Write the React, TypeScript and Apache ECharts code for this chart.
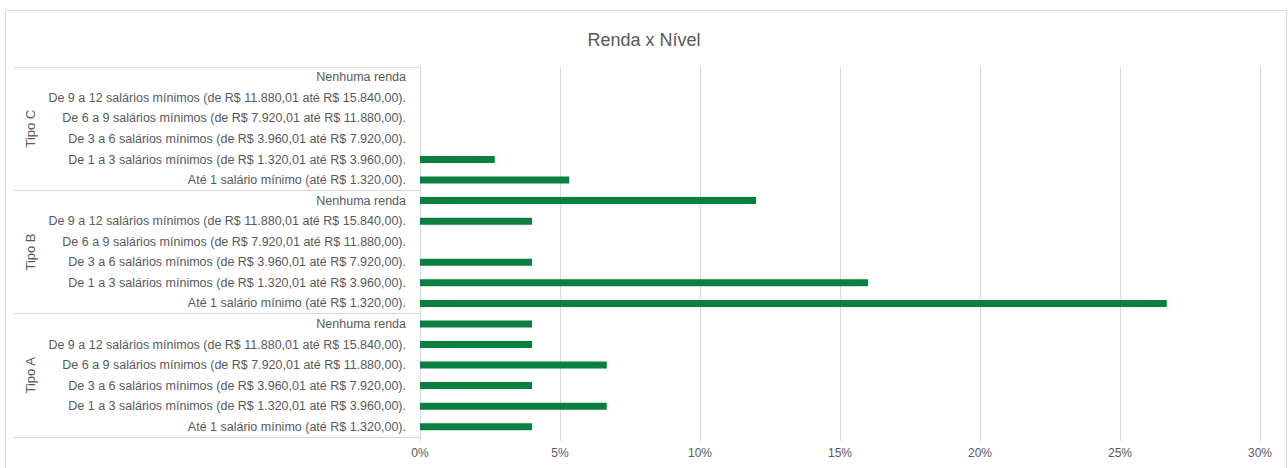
import React, { useEffect, useRef } from "react";
import * as echarts from "echarts";

const titleText = "Renda x Nível";
const groups = ["Tipo A", "Tipo B", "Tipo C"];
const incomeLevels = [
  "Até 1 salário mínimo (até R$ 1.320,00).",
  "De 1 a 3 salários mínimos (de R$ 1.320,01 até R$ 3.960,00).",
  "De 3 a 6 salários mínimos (de R$ 3.960,01 até R$ 7.920,00).",
  "De 6 a 9 salários mínimos (de R$ 7.920,01 até R$ 11.880,00).",
  "De 9 a 12 salários mínimos (de R$ 11.880,01 até R$ 15.840,00).",
  "Nenhuma renda",
];
const tipoA = [4, 6.67, 4, 6.67, 4, 4];
const tipoB = [26.67, 16, 4, 0, 4, 12];
const tipoC = [5.33, 2.67, 0, 0, 0, 0];
const xTicks = { min: 0, max: 30, interval: 5 };

const FONT = "'Liberation Sans', Arial, sans-serif";

export default function App() {
  const ref = useRef<HTMLDivElement>(null);
  useEffect(() => {
    if (!ref.current) return;
    const chart = echarts.init(ref.current, null, { renderer: "svg" });
    const groupValues = [tipoA, tipoB, tipoC];
    const categories: string[] = [];
    const values: number[] = [];
    groups.forEach((g, gi) => {
      incomeLevels.forEach((lvl, li) => {
        categories.push(g + "|" + lvl);
        values.push(groupValues[gi][li]);
      });
    });
    chart.setOption({
      animation: false,
      backgroundColor: "#ffffff",
      textStyle: { fontFamily: FONT },
      title: {
        text: titleText,
        left: "center",
        top: 26,
        textStyle: { fontSize: 18, fontWeight: "normal", color: "#595959", fontFamily: FONT },
      },
      graphic: [
        {
          type: "rect",
          shape: { x: 5.5, y: 10.5, width: 1281, height: 470 },
          style: { fill: "none", stroke: "#D9D9D9", lineWidth: 1 },
          silent: true,
        },
      ],
      grid: { left: 420, right: 28, top: 67, bottom: 31, containLabel: false },
      xAxis: {
        type: "value",
        min: xTicks.min,
        max: xTicks.max,
        interval: xTicks.interval,
        axisLine: { show: false },
        axisTick: { show: true, length: 4, lineStyle: { color: "#D9D9D9" } },
        splitLine: { show: true, lineStyle: { color: "#D9D9D9", width: 1 } },
        axisLabel: {
          formatter: "{value}%",
          color: "#595959",
          fontSize: 12,
          margin: 10,
          fontFamily: FONT,
        },
      },
      yAxis: [
        {
          type: "category",
          data: categories,
          axisLine: { show: true, lineStyle: { color: "#D9D9D9" } },
          axisTick: { show: false },
          splitLine: { show: false },
          axisLabel: {
            formatter: (v: string) => v.split("|")[1],
            color: "#595959",
            fontSize: 12.5,
            margin: 14,
            interval: 0,
            fontFamily: FONT,
          },
        },
        {
          type: "category",
          data: groups,
          position: "left",
          offset: 406,
          axisLine: { show: false },
          axisTick: { show: true, inside: true, length: 406, lineStyle: { color: "#D9D9D9" } },
          splitLine: { show: false },
          axisLabel: {
            inside: true,
            rotate: 90,
            color: "#595959",
            fontSize: 13,
            margin: 10,
            fontFamily: FONT,
          },
        },
      ],
      series: [
        {
          type: "bar",
          yAxisIndex: 0,
          data: values,
          barWidth: 7,
          itemStyle: { color: "#0B7F3F" },
        },
      ],
    });
    return () => chart.dispose();
  }, []);
  return (
    <div
      ref={ref}
      style={{ position: "fixed", left: 0, top: 0, width: 1288, height: 468 }}
    />
  );
}
